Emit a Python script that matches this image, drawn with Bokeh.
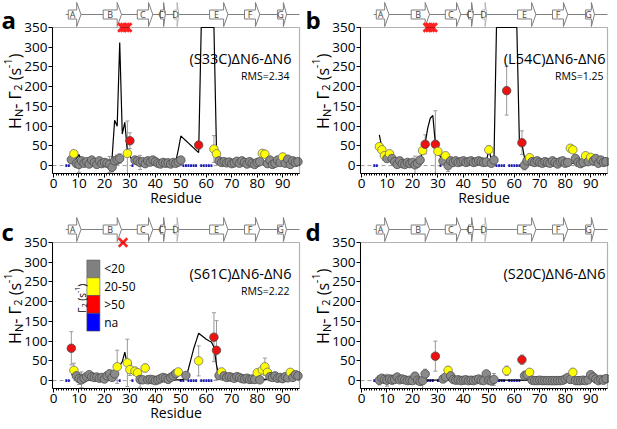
import numpy as np
from bokeh.plotting import figure
from bokeh.layouts import column, row
from bokeh.models import (Label, BoxAnnotation, FixedTicker,
                          SingleIntervalTicker, Range1d)
from bokeh.embed import file_html
from bokeh.resources import INLINE
from bokeh.core.properties import value

FONT = "Open Sans"

# ---------------- data ----------------
residues = list(range(7, 100))
yticks = [0, 50, 100, 150, 200, 250, 300, 350]

strand_names = ["A", "B", "C", "C'", "D", "E", "F", "G"]
strand_start = [5.8, 19.5, 32.9, 42.0, 47.3, 61.3, 75.0, 88.0]
strand_end = [10.8, 26.7, 39.0, 43.9, 49.2, 68.5, 81.0, 91.5]

legend_labels = ["<20", "20-50", ">50", "na"]
legend_colors = ["#808080", "#ffff00", "#ff0000", "#0000ff"]

a_name, a_rms = "(S33C)\u0394N6-\u0394N6", "RMS=2.34"
a_val = [15, 30, 5, 3, 12, 6, 10, 4, 14, 8,
         3, 12, 5, 8, 6, 3, -4, 12, 15, 18,
         None, None, 31, 63, None, 14, 12, 8, 10, 5,
         12, 9, 14, 10, 6, 4, 8, 6, 7, 4,
         8, 6, 9, 14, None, None, None, None, None, None,
         52, None, None, None, None, None, 42, 30, 12, 8,
         10, 7, 9, 5, 7, 11, 6, 12, 8, 4,
         10, 6, 3, 8, 10, 31, 29, 5, 14, 3,
         6, 14, 8, 22, 6, 16, 3, 12, 8, 10,
         6, 8, 5]
a_err = [3, 5, 3, 20, 3, 3, 3, 3, 3, 3,
         3, 3, 3, 3, 3, 20, 12, 8, 12, 12,
         0, 0, 82, 20, 0, 4, 4, 18, 3, 3,
         3, 3, 3, 3, 3, 3, 3, 3, 3, 3,
         3, 3, 3, 5, 0, 0, 0, 0, 0, 0,
         6, 0, 0, 0, 0, 0, 34, 8, 3, 3,
         3, 3, 3, 3, 3, 3, 3, 3, 3, 3,
         3, 3, 3, 3, 3, 8, 8, 3, 3, 3,
         3, 3, 3, 5, 3, 3, 3, 3, 3, 3,
         3, 3, 3]
a_calc = [15, 28, 18, 28, 12, 8, 5, 4, 3, 3,
          3, 3, 3, 3, 4, 6, 20, 115, 100, 312,
          80, 110, 35, 25, 12, 8, 5, 4, 3, 3,
          3, 3, 3, 3, 3, 3, 3, 3, 4, 5,
          7, 10, 40, 75, 69, 63, 57, 51, 45, 39,
          33, 900, 900, 900, 900, 900, 900, 40, 15, 10,
          8, 6, 5, 5, 5, 5, 5, 5, 5, 5,
          5, 5, 5, 5, 5, 5, 5, 5, 5, 5,
          5, 5, 5, 5, 5, 5, 5, 5, 5, 5,
          5, 5, 5]
a_na = [5, 6, 31, 51, 52, 53, 54, 55, 56, 58, 59, 60, 61, 62]
a_marks = [27, 28, 29]

b_name, b_rms = "(L54C)\u0394N6-\u0394N6", "RMS=1.25"
b_val = [48, 40, 25, 18, 30, 18, 10, 3, 12, 5,
         3, 8, 5, 8, 2, 6, 14, 38, 54, None,
         None, None, 54, 36, None, 12, 25, 0, 12, 8,
         12, 8, 10, 12, 8, 10, 12, 8, 10, 12,
         10, 8, 9, 40, 6, 14, None, None, None, None,
         190, None, None, None, None, None, 58, 1, 12, 20,
         10, 8, 12, 8, 6, 10, 8, 6, 12, 8,
         4, 10, 12, 6, 8, 44, 40, 18, 8, 5,
         8, 25, 10, 21, 12, 18, 6, 14, 8, 10,
         7, 8, 6]
b_err = [8, 5, 12, 5, 5, 5, 3, 3, 3, 3,
         3, 3, 3, 3, 22, 3, 3, 8, 24, 0,
         0, 0, 85, 5, 0, 3, 5, 15, 3, 3,
         3, 3, 3, 3, 3, 3, 3, 3, 3, 3,
         3, 3, 3, 10, 3, 3, 0, 0, 0, 0,
         62, 0, 0, 0, 0, 0, 30, 12, 3, 4,
         3, 3, 3, 3, 3, 3, 3, 3, 3, 3,
         3, 3, 3, 3, 3, 8, 8, 3, 3, 3,
         3, 3, 3, 3, 3, 3, 3, 3, 3, 3,
         3, 3, 3]
b_calc = [78, 45, 28, 20, 22, 12, 8, 6, 5, 5,
          4, 4, 4, 5, 6, 8, 15, 36, 57, 95,
          120, 127, 55, 35, 22, 15, 10, 8, 6, 5,
          5, 5, 5, 5, 5, 5, 5, 5, 5, 5,
          5, 6, 10, 40, 15, 10, 900, 900, 900, 900,
          900, 900, 900, 900, 800, 60, 55, 20, 12, 10,
          8, 7, 6, 6, 6, 6, 6, 6, 6, 6,
          6, 6, 6, 6, 6, 6, 6, 6, 6, 6,
          6, 6, 6, 6, 6, 6, 6, 6, 6, 6,
          6, 6, 6]
b_na = [5, 6, 31, 53, 54, 55, 56, 58, 59, 60, 61, 62]
b_marks = [26, 27, 28]

c_name, c_rms = "(S61C)\u0394N6-\u0394N6", "RMS=2.22"
c_val = [82, 26, 12, 5, 2, 6, 10, 15, 10, 8,
         9, 6, 8, 4, 12, 17, 8, 17, 35, None,
         None, None, 45, 28, None, 24, 20, 3, 2, 32,
         2, 3, 2, 0, 2, 5, 8, 6, 3, 8,
         12, 18, 22, None, None, 13, None, None, None, None,
         50, None, None, None, None, None, 110, 77, 13, 22,
         12, 8, 10, 8, 6, 10, 8, 5, 4, 6,
         3, 4, 3, 20, 2, 27, 35, 21, 10, 8,
         12, 6, 8, 5, 10, 7, 21, 8, 15, 12,
         8, 10, 6]
c_err = [42, 18, 3, 15, 20, 3, 3, 3, 3, 3,
         3, 3, 3, 3, 3, 10, 3, 3, 42, 0,
         0, 0, 60, 15, 0, 10, 5, 20, 3, 10,
         3, 3, 3, 3, 3, 3, 3, 3, 3, 3,
         3, 3, 5, 0, 0, 3, 0, 0, 0, 0,
         38, 0, 0, 0, 0, 0, 62, 75, 3, 8,
         3, 3, 3, 3, 3, 3, 3, 3, 3, 3,
         3, 3, 3, 6, 3, 10, 22, 6, 3, 3,
         3, 3, 3, 3, 3, 3, 5, 3, 3, 3,
         3, 3, 3]
c_calc = [15, 14, 6, 0, 1, 2, 2, 2, 2, 2,
          2, 2, 2, 2, 2, 3, 10, 15, 30, 38,
          48, 72, 38, 45, 30, 22, 15, 8, 4, 2,
          2, 2, 2, 2, 2, 2, 2, 2, 2, 2,
          2, 2, 2, 2, 3, 8, 30, 55, 80, 100,
          120, 115, 110, 105, 101, 98, 85, 40, 12, 8,
          5, 3, 3, 3, 3, 3, 3, 3, 3, 3,
          3, 3, 3, 3, 3, 3, 3, 3, 3, 3,
          3, 3, 3, 3, 3, 3, 3, 3, 3, 3,
          3, 3, 3]
c_na = [5, 6, 26, 31, 50, 51, 53, 54, 55, 56, 58, 59, 60, 61, 62]
c_marks = [27.3]

d_name, d_rms = "(S20C)\u0394N6-\u0394N6", ""
d_val = [1, 6, 3, 1, 4, 2, 3, 9, 2, 4,
         2, 0, 1, 0, 11, 1, -2, 0, 17, None,
         None, None, 62, None, None, 4, 9, 26, 12, 3,
         1, 2, 0, 1, 2, 0, 1, 0, 2, 4,
         1, 0, 17, 1, -1, 3, None, None, None, None,
         25, None, None, None, None, None, 53, 12, 15, 21,
         1, 0, 0, 1, 0, 0, 0, 0, 0, 0,
         0, 0, 1, 4, 8, 3, 21, 0, 0, 0,
         1, 0, 2, 15, 9, 4, 0, 3, 1, 5,
         2, 3, 1]
d_err = [12, 3, 3, 15, 3, 12, 3, 3, 3, 3,
         3, 3, 3, 3, 10, 3, 3, 20, 12, 0,
         0, 0, 38, 0, 0, 3, 8, 10, 3, 3,
         3, 3, 3, 3, 3, 3, 3, 3, 3, 3,
         3, 3, 3, 3, 3, 15, 0, 0, 0, 0,
         12, 0, 0, 0, 0, 0, 12, 12, 10, 5,
         3, 3, 3, 3, 3, 3, 3, 3, 3, 3,
         3, 3, 3, 3, 3, 10, 10, 3, 3, 3,
         3, 3, 3, 3, 3, 3, 3, 3, 3, 3,
         3, 3, 3]
d_calc = [0, 2, 4, 3, 2, 3, 5, 7, 5, 3,
          2, 1, 1, 1, 1, 1, 1, 1, 1, 1,
          1, 1, 1, 1, 1, 1, 1, 1, 1, 1,
          1, 1, 1, 1, 1, 1, 1, 1, 1, 1,
          1, 1, 1, 1, 1, 1, 1, 1, 1, 1,
          1, 1, 1, 1, 1, 1, 1, 1, 1, 1,
          1, 1, 1, 1, 1, 1, 1, 1, 1, 1,
          1, 1, 1, 1, 1, 1, 1, 1, 1, 1,
          1, 1, 1, 1, 1, 1, 1, 1, 1, 1,
          1, 1, 1]
d_na = [5, 6, 26, 27, 28, 30, 31, 53, 54, 55, 56, 58, 59, 60, 61, 62]
d_marks = []

# ---------------- geometry ----------------
X0, X1 = -0.4, 96.6
YMIN, YMAX = -20, 350
FW, FH = 247, 146
PPX = FW / (X1 - X0)
PPU = FH / (YMAX - YMIN)

CW = {'H': 0.74, 'N': 0.75, '-': 0.32, ' ': 0.26, '\u0393': 0.55, '2': 0.57,
      '(': 0.30, ')': 0.30, 's': 0.46, '1': 0.57}


def tw(t, size):
    return sum(CW.get(ch, 0.55) for ch in t) * size


def vlabel(p, xb, y0, pieces):
    y = y0
    for t, s, sh in pieces:
        if t.strip():
            p.add_layout(Label(x=xb + sh / PPX, y=y, text=t, angle=np.pi / 2,
                               text_font=FONT, text_font_size=f"{s}px",
                               text_align="left", text_baseline="alphabetic",
                               text_color="black"))
        y += tw(t, s) / PPU


def colour(v):
    if v < 20:
        return "#8a8a8a", "#4d4d4d"
    if v <= 50:
        return "#ffff00", "#707070"
    return "#ee1111", "#4d4d4d"


def make_panel(letter, name, rms, vals, errs, calc, na, marks,
               left, right, top, bottom, letter_up, name_inset, xlabel, legend):
    W = left + FW + right
    H = top + FH + bottom
    XL, XR = X0 - left / PPX, X1 + right / PPX
    YB, YT = YMIN - bottom / PPU, YMAX + top / PPU
    p = figure(width=W, height=H, x_range=Range1d(XL, XR), y_range=Range1d(YB, YT),
               output_backend="svg", toolbar_location=None,
               min_border_left=0, min_border_right=0,
               min_border_top=0, min_border_bottom=0)
    p.outline_line_color = None
    p.xgrid.visible = False
    p.ygrid.visible = False
    p.background_fill_color = "white"
    p.border_fill_color = "white"

    # axes (library axes, drawn at the panel frame)
    p.xaxis.ticker = SingleIntervalTicker(interval=10, num_minor_ticks=10)
    p.yaxis.ticker = FixedTicker(ticks=yticks)
    p.xaxis.fixed_location = YMIN
    p.yaxis.fixed_location = X0
    p.xaxis.bounds = (X0, X1)
    p.yaxis.bounds = (YMIN, YMAX)
    for ax in (p.xaxis[0], p.yaxis[0]):
        ax.major_label_text_font = FONT
        ax.major_label_text_font_size = "13.5px"
        ax.major_label_text_color = "black"
        ax.axis_line_color = "black"
        ax.major_tick_line_color = "black"
        ax.minor_tick_line_color = "black"
        ax.major_tick_in = 0
        ax.minor_tick_in = 0
        ax.major_label_standoff = 1
    p.xaxis.major_tick_out = 4
    p.xaxis.minor_tick_out = 2
    p.yaxis.major_tick_out = 4
    p.yaxis.minor_tick_line_color = None

    # frame box and zero line
    p.add_layout(BoxAnnotation(left=X0, right=X1, bottom=YMIN, top=YMAX,
                               fill_color=None, line_color="black", line_width=1.2))
    p.segment(x0=[X0], y0=[0], x1=[X1], y1=[0], line_color="#9a9a9a",
              line_dash="4 3", line_width=1)

    # na markers
    p.rect(x=na, y=[0] * len(na), width=0.75, height=2.6 / PPU,
           fill_color="#1a1ab4", line_color=None)

    # measured values (only the part inside the axis range)
    keep = [i for i, r in enumerate(residues) if r <= X1 and vals[i] is not None]
    xs = [residues[i] for i in keep]
    ys = [vals[i] for i in keep]
    es = [errs[i] for i in keep]
    hi = [y + e for y, e in zip(ys, es)]
    lo_raw = [y - e for y, e in zip(ys, es)]
    lo = [max(v, YMIN) for v in lo_raw]
    p.segment(x0=xs, y0=lo, x1=xs, y1=hi, line_color="#9a9a9a", line_width=1)
    cap_x = xs + [x for x, v in zip(xs, lo_raw) if v >= YMIN]
    cap_y = hi + [v for v in lo_raw if v >= YMIN]
    p.scatter(x=cap_x, y=cap_y, marker="dash", size=4, line_color="#9a9a9a",
              line_width=1)

    # back-calculated profile
    cidx = [i for i, r in enumerate(residues) if r <= X1]
    p.line(x=[residues[i] for i in cidx],
           y=np.minimum(np.array([calc[i] for i in cidx], dtype=float), YMAX),
           line_color="black", line_width=1.2)

    fills = [colour(v)[0] for v in ys]
    lines = [colour(v)[1] for v in ys]
    p.scatter(x=xs, y=ys, size=8.5, fill_color=fills, line_color=lines, line_width=0.8)

    # secondary structure diagram
    yl = YMAX + 13 / PPU
    bh = 4.5 / PPU
    ah = 12 / PPU
    p.segment(x0=[strand_start[0] - 1.0], y0=[yl], x1=[X1], y1=[yl],
              line_color="#7f7f7f", line_width=1)
    pxs, pys, cx, lc = [], [], [], []
    for nm, s, e in zip(strand_names, strand_start, strand_end):
        hl = min(1.7, 0.35 * (e - s))
        m = e - hl
        pxs.append([s, m, m, e, m, m, s])
        pys.append([yl - bh, yl - bh, yl - ah, yl, yl + ah, yl + bh, yl + bh])
        cx.append((s + m) / 2)
        lc.append("#b5b5b5" if nm == "D" else "#7f7f7f")
    p.patches(xs=pxs, ys=pys, fill_color="white", line_color=lc, line_width=1)
    p.text(x=cx, y=[yl] * len(cx), text=strand_names, text_font=value(FONT),
           text_font_size="9px", text_align="center", text_baseline="middle",
           text_color="#444444")

    if marks:
        p.scatter(x=marks, y=[YMAX] * len(marks), marker="x", size=12,
                  line_color="#ff2020", line_width=2.5)

    # texts
    p.add_layout(Label(x=X1 - name_inset / PPX, y=YMAX - 31 / PPU, text=name,
                       text_font=FONT, text_font_size="14.5px", text_align="right",
                       text_baseline="middle", text_color="black"))
    if rms:
        p.add_layout(Label(x=X1 - (name_inset + 2) / PPX, y=YMAX - 48 / PPU, text=rms,
                           text_font=FONT, text_font_size="10.5px", text_align="right",
                           text_baseline="middle", text_color="black"))
    p.add_layout(Label(x=XL + 1 / PPX, y=YMAX + letter_up / PPU, text=letter,
                       text_font=FONT, text_font_size="24px", text_font_style="bold",
                       text_align="left", text_baseline="alphabetic",
                       text_color="black"))
    if xlabel:
        p.add_layout(Label(x=(X0 + X1) / 2, y=YMIN - 24 / PPU, text="Residue",
                           text_font=FONT, text_font_size="14px", text_align="center",
                           text_baseline="middle", text_color="black"))
    # y axis label  H_N- Γ_2 (s^-1)
    vlabel(p, XL + (left - 38) / PPX, 93,
           [("H", 16, 0), ("N", 11, 3.5), ("-", 16, 0), (" ", 16, 0),
            ("\u0393", 16, 0), ("2", 11, 3.5), (" ", 16, 0), ("(s", 16, 0),
            ("-1", 11, -6.5), (")", 16, 0)])

    if legend:
        bw = 45
        tops = [305.5 - i * bw for i in range(len(legend_labels))]
        bots = [t - bw for t in tops]
        p.quad(left=13.1, right=18.2, top=tops, bottom=bots,
               fill_color=legend_colors, line_color="#555555", line_width=0.6)
        for lab, t in zip(legend_labels, tops):
            p.add_layout(Label(x=19.9, y=t - bw / 2, text=lab, text_font=FONT,
                               text_font_size="12px", text_align="left",
                               text_baseline="middle", text_color="black"))
        vlabel(p, 11.0, 172,
               [("\u0393", 10, 0), ("2", 7, 2.5), (" ", 10, 0), ("(s", 10, 0),
                ("-1", 7, -4.5), (")", 10, 0)])
    return p


# column 1: 52 + 247 + 5 = 304 ; column 2: 56 + 247 + 2 = 305
# row 1: 27 + 146 + 33 = 206 ; row 2: 36 + 146 + 33 = 215
pa = make_panel("a", a_name, a_rms, a_val, a_err, a_calc, a_na, a_marks,
                52, 5, 27, 33, 8, 8, True, False)
pb = make_panel("b", b_name, b_rms, b_val, b_err, b_calc, b_na, b_marks,
                56, 2, 27, 33, 8, 2, True, False)
pc = make_panel("c", c_name, c_rms, c_val, c_err, c_calc, c_na, c_marks,
                52, 5, 36, 33, 11, 8, True, True)
pd = make_panel("d", d_name, d_rms, d_val, d_err, d_calc, d_na, d_marks,
                56, 2, 36, 33, 11, 2, False, False)

layout = column(row(pa, pb), row(pc, pd))

open("out.html", "w").write(file_html(layout, INLINE))
